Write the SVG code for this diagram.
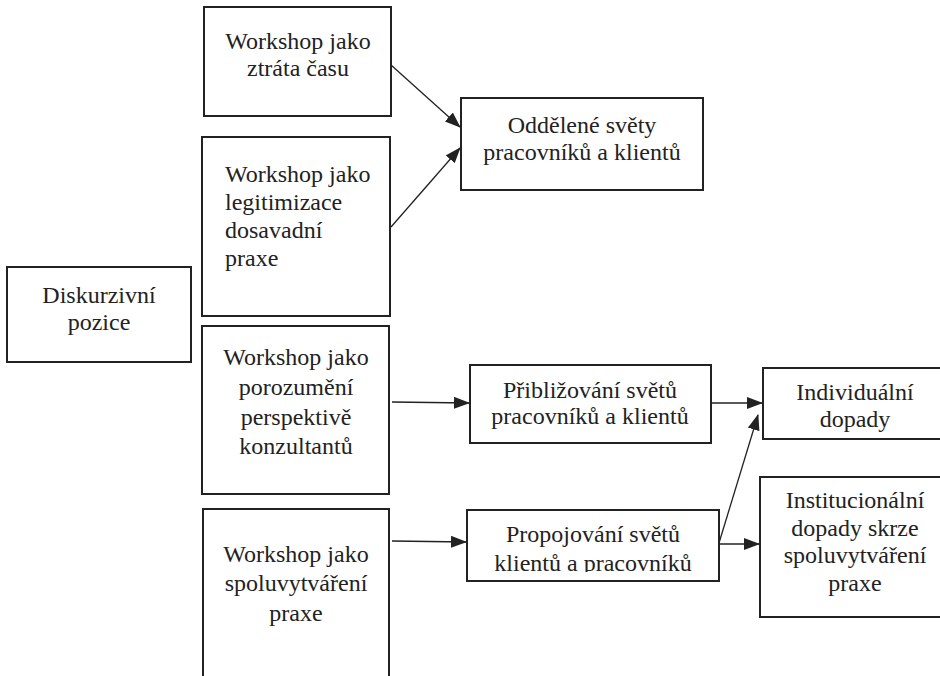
<svg xmlns="http://www.w3.org/2000/svg" width="940" height="676" viewBox="0 0 940 676">
<style>
  .box { fill: #fff; stroke: #222; stroke-width: 2; }
  .t { font-family: "Liberation Serif", "Times New Roman", serif; font-size: 24px; fill: #222; }
  .c { text-anchor: middle; }
  .edge { stroke: #222; stroke-width: 1.3; fill: none; marker-end: url(#ah); }
</style>
<defs>
  <marker id="ah" markerWidth="16" markerHeight="12" refX="15" refY="6" orient="auto" markerUnits="userSpaceOnUse">
    <path d="M0,0 L16,6 L0,12 Z" fill="#222"/>
  </marker>
  <clipPath id="clipProp"><rect x="460" y="500" width="270" height="72"/></clipPath>
</defs>
<rect width="940" height="676" fill="#fff"/>

<g id="connectors">
  <line class="edge" x1="391" y1="65" x2="460" y2="127"/>
  <line class="edge" x1="391" y1="227" x2="460" y2="148"/>
  <line class="edge" x1="392" y1="402" x2="469" y2="403"/>
  <line class="edge" x1="392" y1="541" x2="466" y2="542"/>
  <line class="edge" x1="711" y1="403" x2="762" y2="403"/>
  <line class="edge" x1="719" y1="544" x2="759" y2="544"/>
  <line class="edge" x1="719" y1="543" x2="758" y2="415"/>
</g>

<g id="n-ztrata">
  <rect class="box" x="204" y="7" width="187" height="109"/>
  <text class="t c" x="298" y="49">Workshop jako</text>
  <text class="t c" x="298" y="76">ztráta času</text>
</g>

<g id="n-legitimizace">
  <rect class="box" x="202" y="137" width="188" height="179"/>
  <text class="t" x="225" y="182">Workshop jako</text>
  <text class="t" x="225" y="210">legitimizace</text>
  <text class="t" x="225" y="238">dosavadní</text>
  <text class="t" x="225" y="266">praxe</text>
</g>

<g id="n-oddelene">
  <rect class="box" x="461" y="98" width="242" height="92"/>
  <text class="t c" x="582" y="133">Oddělené světy</text>
  <text class="t c" x="582" y="160">pracovníků a klientů</text>
</g>

<g id="n-diskurzivni">
  <rect class="box" x="7" y="267" width="184" height="95"/>
  <text class="t c" x="99" y="303">Diskurzivní</text>
  <text class="t c" x="99" y="330">pozice</text>
</g>

<g id="n-porozumeni">
  <rect class="box" x="202" y="326" width="187" height="168"/>
  <text class="t c" x="296" y="365">Workshop jako</text>
  <text class="t c" x="296" y="395">porozumění</text>
  <text class="t c" x="296" y="425">perspektivě</text>
  <text class="t c" x="296" y="454">konzultantů</text>
</g>

<g id="n-spoluvytvareni">
  <rect class="box" x="203" y="509" width="186" height="180"/>
  <text class="t c" x="296" y="562">Workshop jako</text>
  <text class="t c" x="296" y="591">spoluvytváření</text>
  <text class="t c" x="296" y="621">praxe</text>
</g>

<g id="n-priblizovani">
  <rect class="box" x="470" y="365" width="241" height="78"/>
  <text class="t c" x="590" y="398">Přibližování světů</text>
  <text class="t c" x="590" y="424">pracovníků a klientů</text>
</g>

<g id="n-propojovani">
  <rect class="box" x="467" y="510" width="252" height="71"/>
  <g clip-path="url(#clipProp)">
    <text class="t c" x="593" y="542">Propojování světů</text>
    <text class="t c" x="593" y="571">klientů a pracovníků</text>
  </g>
</g>

<g id="n-individualni">
  <rect class="box" x="763" y="368" width="185" height="71"/>
  <text class="t c" x="855" y="400">Individuální</text>
  <text class="t c" x="855" y="427">dopady</text>
</g>

<g id="n-institucionalni">
  <rect class="box" x="760" y="477" width="188" height="140"/>
  <text class="t c" x="855" y="508">Institucionální</text>
  <text class="t c" x="855" y="536">dopady skrze</text>
  <text class="t c" x="855" y="563">spoluvytváření</text>
  <text class="t c" x="855" y="591">praxe</text>
</g>
</svg>
